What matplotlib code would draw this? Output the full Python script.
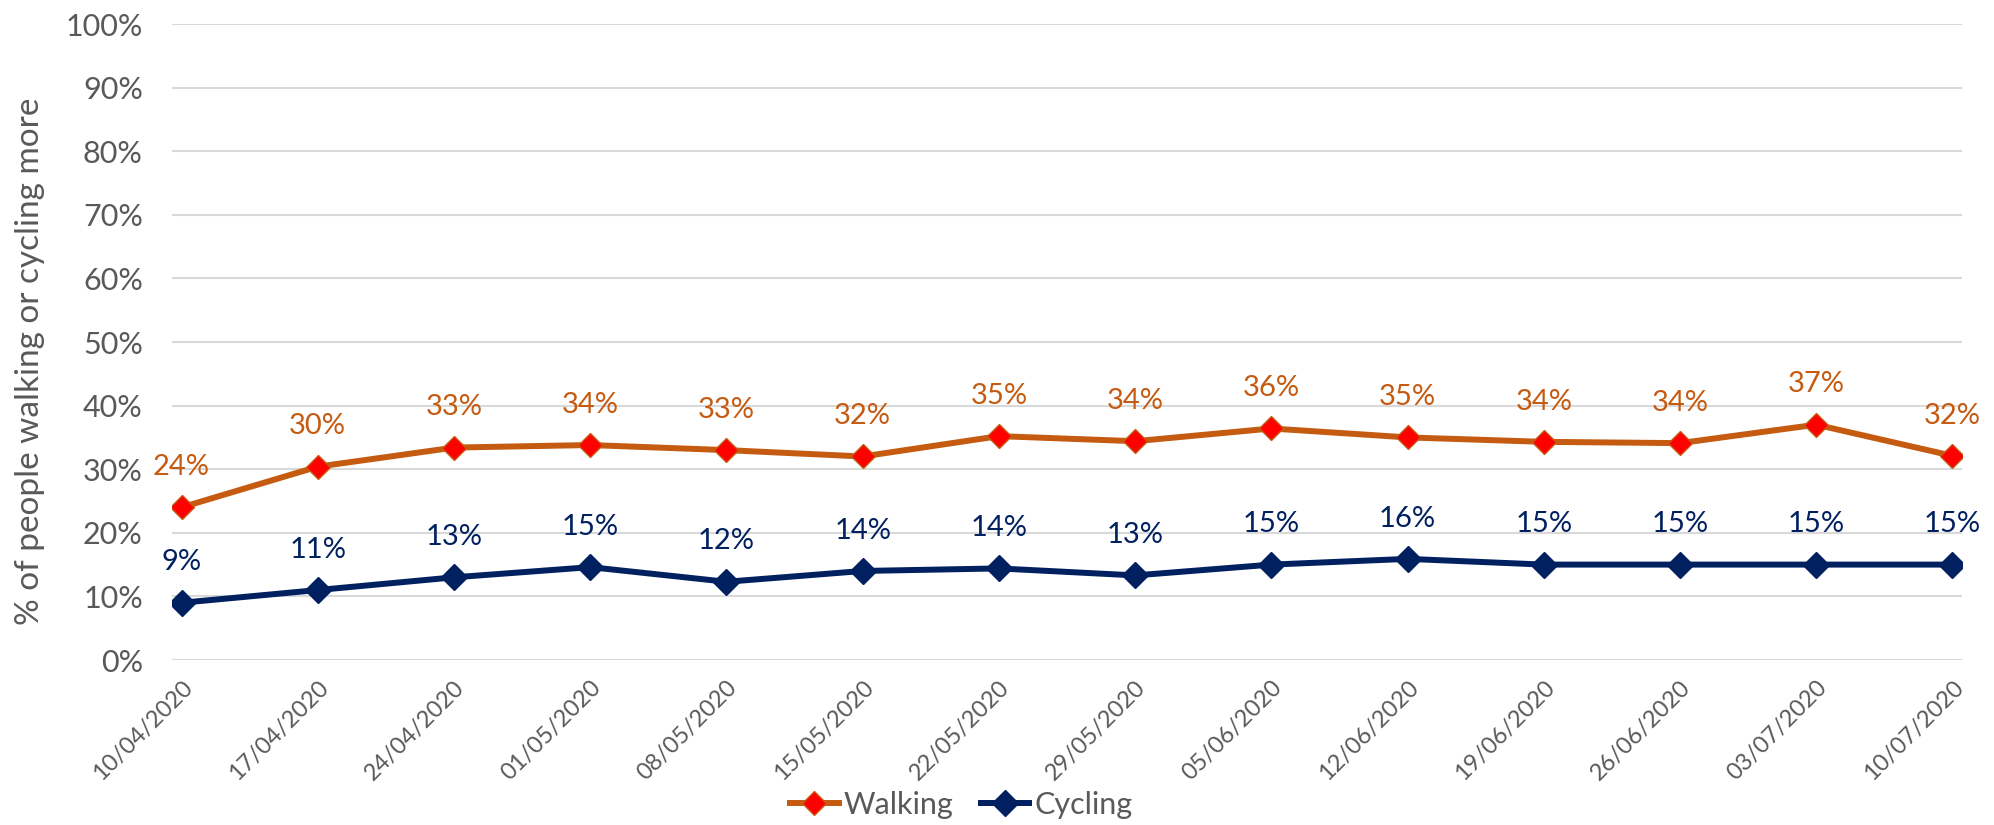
import numpy as np
import matplotlib
matplotlib.use("Agg")
import matplotlib.pyplot as plt
from matplotlib.ticker import PercentFormatter

# données
dates = ['10/04/2020', '17/04/2020', '24/04/2020', '01/05/2020', '08/05/2020',
         '15/05/2020', '22/05/2020', '29/05/2020', '05/06/2020', '12/06/2020',
         '19/06/2020', '26/06/2020', '03/07/2020', '10/07/2020']
walking = [24.0, 30.4, 33.4, 33.8, 33.0, 32.0, 35.2, 34.4, 36.4, 35.0, 34.3, 34.1, 37.0, 32.1]
walking_labels = ['24%', '30%', '33%', '34%', '33%', '32%', '35%', '34%', '36%', '35%',
                  '34%', '34%', '37%', '32%']
cycling = [9.0, 11.0, 13.0, 14.6, 12.3, 14.0, 14.4, 13.3, 15.0, 15.9, 15.0, 15.0, 15.0, 15.0]
cycling_labels = ['9%', '11%', '13%', '15%', '12%', '14%', '14%', '13%', '15%', '16%',
                  '15%', '15%', '15%', '15%']

orange = '#C55A11'
navy = '#002060'
grey = '#595959'

plt.rcParams['font.family'] = ['Lato', 'DejaVu Sans']

fig = plt.figure(figsize=(19.94, 8.25), dpi=100)
ax = fig.add_axes([172 / 1994, 1 - 660 / 825, (1962 - 172) / 1994, (660 - 24) / 825])

x = np.arange(len(dates))
ax.plot(x, walking, color=orange, lw=4.3, marker='D', markersize=12,
        markerfacecolor='#FF0000', markeredgecolor=orange, markeredgewidth=1,
        label='Walking', zorder=3)
ax.plot(x, cycling, color=navy, lw=4.3, marker='D', markersize=13,
        markerfacecolor=navy, markeredgecolor=navy, label='Cycling', zorder=3)

for xi, v, t in zip(x, walking, walking_labels):
    ax.annotate(t, (xi, v), xytext=(0, 29), textcoords='offset points',
                ha='center', va='center', fontsize=21, color=orange)
for xi, v, t in zip(x, cycling, cycling_labels):
    ax.annotate(t, (xi, v), xytext=(0, 29), textcoords='offset points',
                ha='center', va='center', fontsize=21, color=navy)

ax.set_ylim(0, 100)
ax.set_xlim(-0.07, len(dates) - 1 + 0.07)
ax.set_yticks(np.arange(0, 101, 10))
ax.yaxis.set_major_formatter(PercentFormatter(decimals=0))
ax.set_xticks(x)
ax.set_xticklabels(dates, rotation=45, ha='right', rotation_mode='anchor')
ax.grid(axis='y', color='#D9D9D9', lw=1.5)
ax.set_axisbelow(True)
for s in ax.spines.values():
    s.set_visible(False)
ax.tick_params(axis='y', length=0, pad=21, labelsize=22, labelcolor=grey)
ax.tick_params(axis='x', length=0, pad=12, labelsize=17, labelcolor=grey)
ax.set_ylabel('% of people walking or cycling more', fontsize=24, color=grey)
ax.yaxis.set_label_coords(-0.071, 0.469)

fig.legend(loc='center', bbox_to_anchor=(961 / 1994, 1 - 805 / 825), ncol=2,
           frameon=False, fontsize=22, labelcolor=grey, handlelength=1.6,
           handletextpad=0.15, columnspacing=0.9)

fig.savefig('out.png', dpi=100)
